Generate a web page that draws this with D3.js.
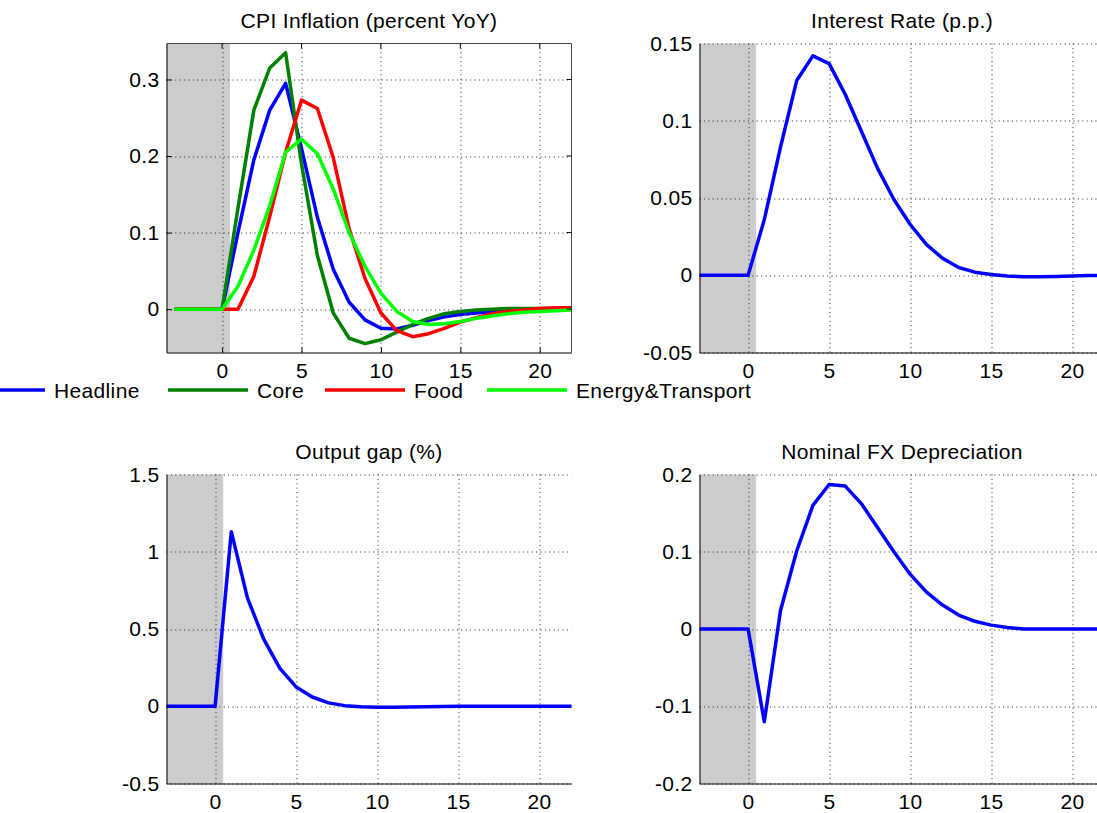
<!DOCTYPE html>
<html><head><meta charset="utf-8">
<script src="https://cdn.jsdelivr.net/npm/d3@7"></script>
<style>
body{margin:0;background:#fff}
svg text{font-family:"Liberation Sans",Arial,Helvetica,sans-serif;font-size:21px;fill:#000;letter-spacing:0.35px}
</style>
</head><body>
<svg id="c" width="1097" height="813"></svg>
<script>
// ---------- data ----------
const periods = [-3,-2,-1,0,1,2,3,4,5,6,7,8,9,10,11,12,13,14,15,16,17,18,19,20,21,22];

const headline = [0,0,0,0,0.100,0.195,0.260,0.295,0.210,0.120,0.052,0.009,-0.014,-0.025,-0.026,-0.021,-0.015,-0.010,-0.007,-0.005,-0.003,-0.001,0,0,0.001,0.001];
const core     = [0,0,0,0,0.132,0.260,0.315,0.335,0.190,0.070,-0.005,-0.038,-0.045,-0.040,-0.030,-0.020,-0.012,-0.006,-0.003,-0.001,0,0.001,0.001,0.001,0.001,0.001];
const food     = [0,0,0,0,0,0.043,0.121,0.205,0.273,0.262,0.198,0.105,0.040,-0.005,-0.028,-0.036,-0.032,-0.025,-0.017,-0.011,-0.006,-0.003,-0.001,0.001,0.002,0.002];
const energy   = [0,0,0,0,0.030,0.077,0.135,0.205,0.222,0.203,0.157,0.100,0.056,0.021,-0.003,-0.016,-0.020,-0.019,-0.016,-0.012,-0.009,-0.006,-0.004,-0.003,-0.002,-0.001];

const interestRate = [0,0,0,0,0.036,0.083,0.126,0.142,0.137,0.117,0.093,0.069,0.049,0.033,0.020,0.011,0.005,0.002,0.0005,-0.0005,-0.001,-0.001,-0.0008,-0.0005,-0.0002,0];
const outputGap    = [0,0,0,0,1.13,0.70,0.435,0.245,0.125,0.060,0.022,0.004,-0.004,-0.006,-0.006,-0.005,-0.003,-0.001,0,0,0,0,0,0,0,0];
const fxDepr       = [0,0,0,0,-0.120,0.024,0.101,0.160,0.187,0.185,0.162,0.131,0.100,0.071,0.048,0.031,0.018,0.010,0.005,0.002,0,0,0,0,0,0];

const xTicks = [0,5,10,15,20];
const yTicksCPI = [0,0.1,0.2,0.3];
const yTicksRate = [-0.05,0,0.05,0.1,0.15];
const yTicksGap = [-0.5,0,0.5,1,1.5];
const yTicksFX = [-0.2,-0.1,0,0.1,0.2];

const titles = ["CPI Inflation (percent YoY)","Interest Rate (p.p.)","Output gap (%)","Nominal FX Depreciation"];
const seriesNames = ["Headline","Core","Food","Energy&Transport"];
const shadeEnd = 0.5;

// ---------- styles / layout ----------
const colors = {Headline:"#0000ff", Core:"#008000", Food:"#ff0000", "Energy&Transport":"#00ff00"};
const W = 405, H = 309;
const panels = [
  {left:166.5, top:43.5, xDom:[-3.5,22], yDom:[-0.0566,0.347], yTicks:yTicksCPI, title:titles[0], box:true,
   series:[{name:"Headline",v:headline},{name:"Core",v:core},{name:"Food",v:food},{name:"Energy&Transport",v:energy}]},
  {left:699.5, top:43.5, xDom:[-3,22], yDom:[-0.05,0.15], yTicks:yTicksRate, title:titles[1], box:false,
   series:[{name:"Headline",v:interestRate}]},
  {left:166.5, top:474.5, xDom:[-3,22], yDom:[-0.5,1.5], yTicks:yTicksGap, title:titles[2], box:false,
   series:[{name:"Headline",v:outputGap}]},
  {left:699.5, top:474.5, xDom:[-3,22], yDom:[-0.2,0.2], yTicks:yTicksFX, title:titles[3], box:false,
   series:[{name:"Headline",v:fxDepr}]}
];

const svg = d3.select("#c");
svg.append("rect").attr("width",1097).attr("height",813).attr("fill","#fff");

panels.forEach(p => {
  const x = d3.scaleLinear().domain(p.xDom).range([0,W]);
  const y = d3.scaleLinear().domain(p.yDom).range([H,0]);
  const g = svg.append("g").attr("transform",`translate(${p.left},${p.top})`);

  // shade
  g.append("rect").attr("x",0).attr("y",0)
    .attr("width",x(shadeEnd)-x(p.xDom[0])).attr("height",H).attr("fill","#cccccc");

  // grid
  const grid = g.append("g").attr("stroke","#222").attr("stroke-width",1).attr("stroke-dasharray","1,3.4");
  xTicks.forEach(t => grid.append("line").attr("x1",Math.round(x(t))+0.5).attr("x2",Math.round(x(t))+0.5).attr("y1",H).attr("y2",0));
  p.yTicks.forEach(t => grid.append("line").attr("y1",Math.round(y(t))+0.5).attr("y2",Math.round(y(t))+0.5).attr("x1",0).attr("x2",W));

  // lines
  const line = d3.line().x((d,i)=>x(periods[i])).y(d=>y(d));
  p.series.forEach(s => {
    g.append("path").datum(s.v).attr("d",line).attr("fill","none")
      .attr("stroke",colors[s.name]).attr("stroke-width",3.5).attr("stroke-linejoin","round");
  });

  // axes
  const fmt = d => String(d);
  const inner = p.box ? -5 : 0;
  const ax = g.append("g").attr("transform",`translate(0,${H})`)
    .call(d3.axisBottom(x).tickValues(xTicks).tickFormat(fmt).tickSizeInner(inner).tickSizeOuter(0).tickPadding(11));
  const ay = g.append("g")
    .call(d3.axisLeft(y).tickValues(p.yTicks).tickFormat(fmt).tickSizeInner(inner).tickSizeOuter(0).tickPadding(7));
  [ax,ay].forEach(a => {
    a.selectAll("text").style("font-size","21px").attr("fill","#000");
    a.selectAll("path,line").attr("stroke","#000");
    a.attr("font-family",null).attr("font-size",null);
  });
  if (p.box) {
    g.append("line").attr("x1",0).attr("x2",W).attr("y1",0).attr("y2",0).attr("stroke","#444");
    g.append("line").attr("x1",W).attr("x2",W).attr("y1",0).attr("y2",H).attr("stroke","#444");
    xTicks.forEach(t => g.append("line").attr("x1",x(t)).attr("x2",x(t)).attr("y1",0).attr("y2",5).attr("stroke","#000"));
    p.yTicks.forEach(t => g.append("line").attr("x1",W).attr("x2",W-5).attr("y1",y(t)).attr("y2",y(t)).attr("stroke","#000"));
  }

  // title
  g.append("text").attr("x",W/2).attr("y",-15.5).attr("text-anchor","middle").text(p.title);
});

// legend
const legendStart = [-35,168,325,487];
const lg = svg.append("g");
seriesNames.forEach((n,i) => {
  lg.append("line").attr("x1",legendStart[i]).attr("x2",legendStart[i]+80).attr("y1",390).attr("y2",390)
    .attr("stroke",colors[n]).attr("stroke-width",3.5);
  lg.append("text").attr("x",legendStart[i]+89).attr("y",397.5).text(n);
});
</script>
</body></html>
